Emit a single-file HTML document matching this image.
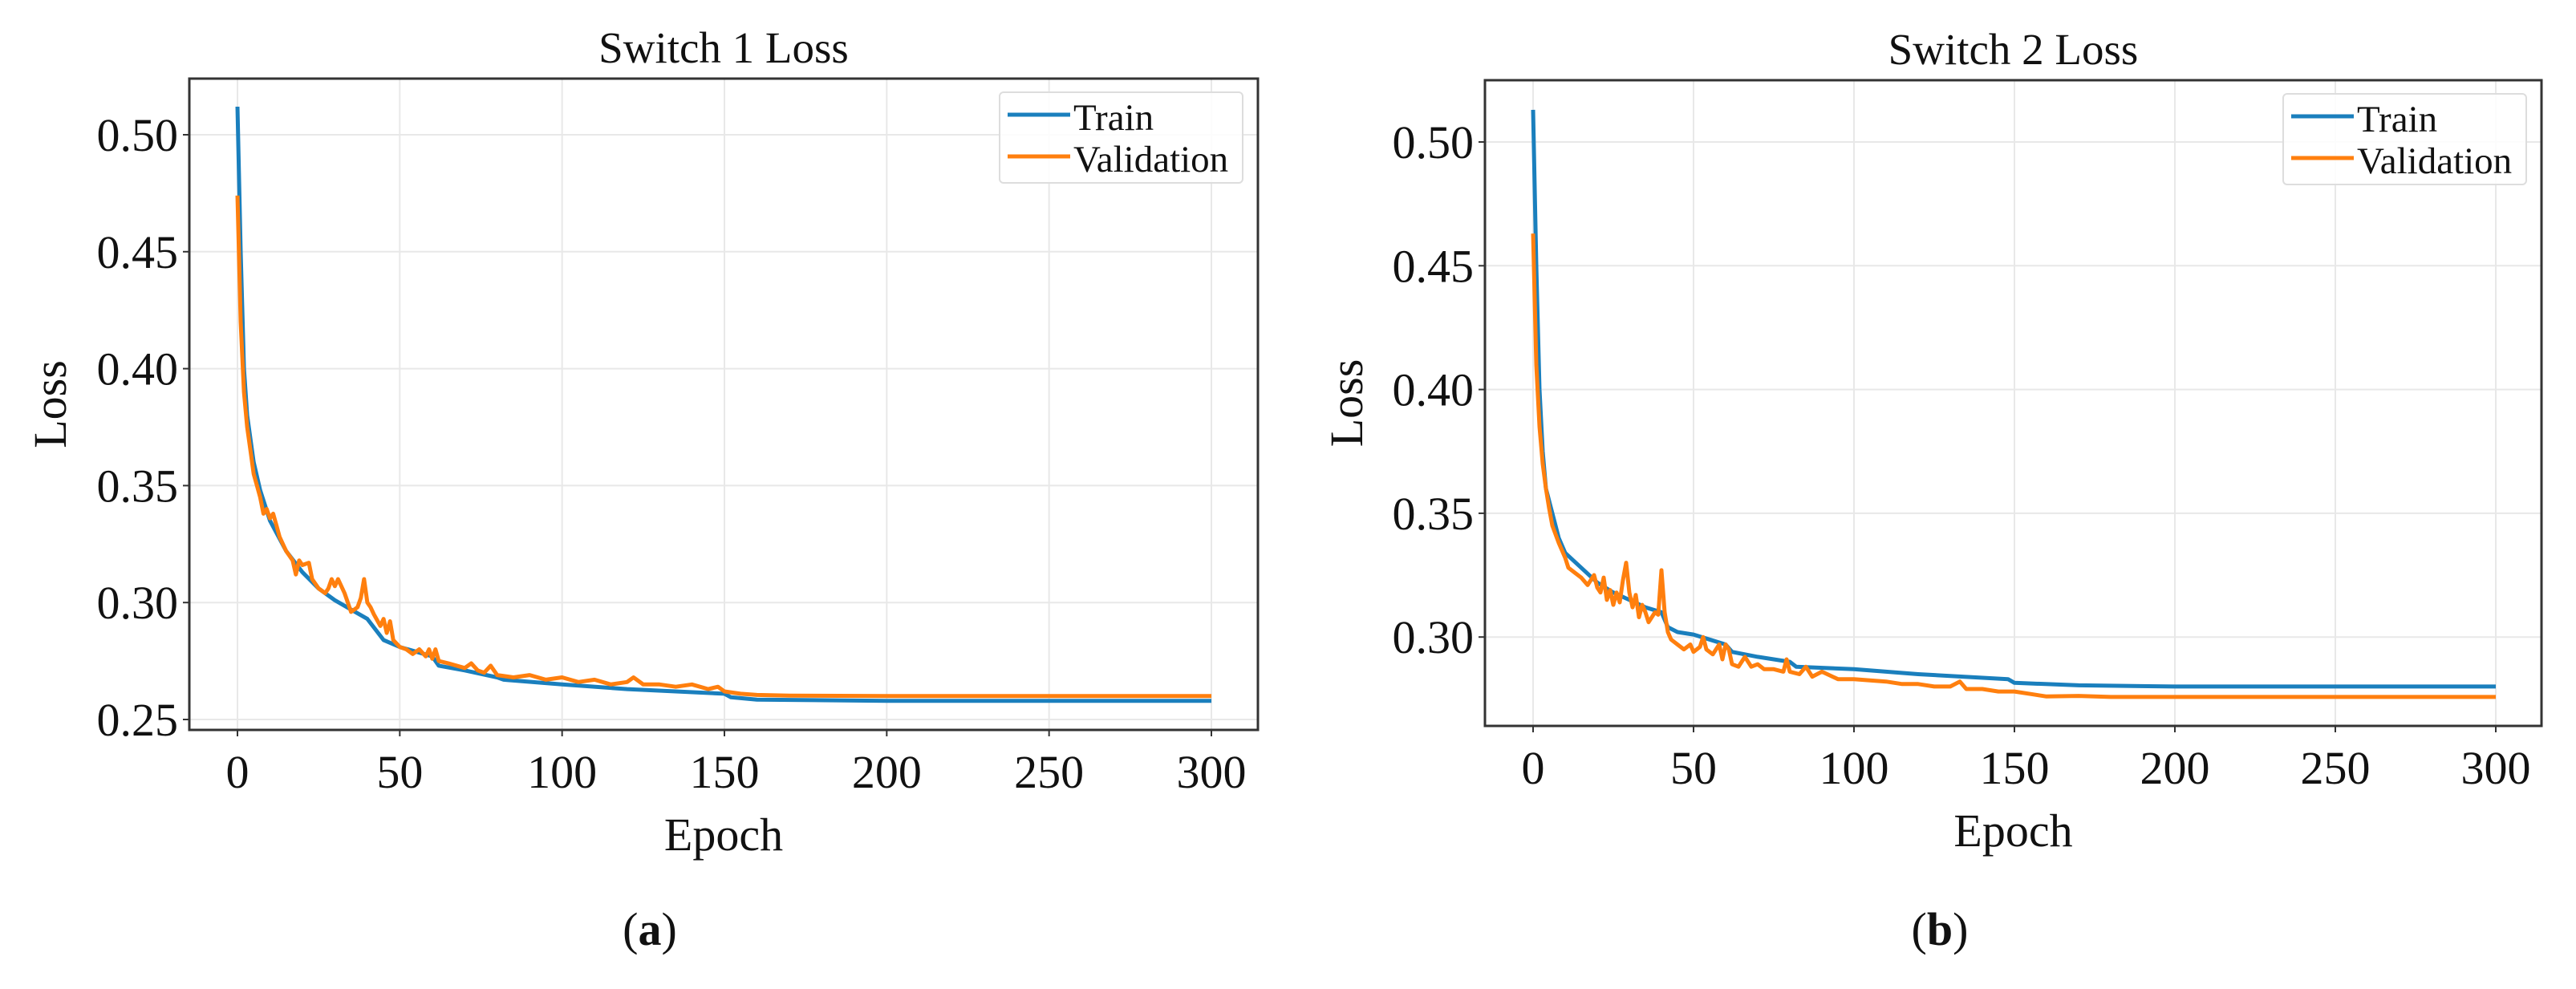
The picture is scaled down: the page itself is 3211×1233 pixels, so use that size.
<!DOCTYPE html>
<html><head><meta charset="utf-8">
<style>
html,body{margin:0;padding:0;background:#fff;}
svg{display:block;font-family:"Liberation Serif",serif;}
</style></head>
<body>
<svg id="chart" width="3211" height="1233" viewBox="0 0 3211 1233" xmlns="http://www.w3.org/2000/svg"></svg>
<script>
const xTicks = [0,50,100,150,200,250,300];
const yTicksA = [0.25,0.30,0.35,0.40,0.45,0.50];
const yTicksB = [0.30,0.35,0.40,0.45,0.50];

const epochsTrainA = [0,1,2,3,5,7,10,15,20,25,30,35,40,45,50,60,62,70,80,82,100,120,150,152,160,200,300];
const trainA = [0.512,0.45,0.40,0.38,0.36,0.348,0.335,0.322,0.313,0.306,0.301,0.297,0.293,0.284,0.281,0.277,0.273,0.271,0.268,0.267,0.265,0.263,0.261,0.2595,0.2585,0.258,0.258];
const epochsValA = [0,1,2,3,4,5,6,7,8,9,10,11,12,13,15,17,18,19,20,22,23,25,27,28,29,30,31,33,35,37,38,39,40,41,42,44,45,46,47,48,50,52,54,56,58,59,60,61,62,65,70,72,74,76,78,80,85,90,95,100,105,110,115,120,122,125,130,135,140,145,148,150,155,160,170,200,300];
const valA = [0.474,0.42,0.39,0.375,0.365,0.355,0.35,0.345,0.338,0.34,0.336,0.338,0.333,0.328,0.322,0.318,0.312,0.318,0.316,0.317,0.31,0.306,0.304,0.306,0.31,0.307,0.31,0.304,0.296,0.298,0.302,0.31,0.3,0.298,0.295,0.29,0.293,0.287,0.292,0.284,0.281,0.28,0.278,0.28,0.277,0.28,0.276,0.28,0.275,0.274,0.272,0.274,0.271,0.27,0.273,0.269,0.268,0.269,0.267,0.268,0.266,0.267,0.265,0.266,0.268,0.265,0.265,0.264,0.265,0.263,0.264,0.262,0.261,0.2605,0.2602,0.26,0.26];

const epochsTrainB = [0,1,2,3,4,6,8,10,15,20,25,30,35,40,42,45,50,55,60,62,70,80,82,100,120,148,150,170,200,300];
const trainB = [0.513,0.45,0.40,0.375,0.36,0.35,0.34,0.334,0.328,0.322,0.318,0.315,0.312,0.31,0.304,0.302,0.301,0.299,0.297,0.294,0.292,0.29,0.288,0.287,0.285,0.283,0.2815,0.2805,0.28,0.28];
const epochsValB = [0,1,2,3,4,5,6,8,10,11,13,15,17,19,20,21,22,23,24,25,26,27,28,29,30,31,32,33,34,35,36,38,39,40,41,42,43,45,47,49,50,52,53,54,56,58,59,60,61,62,64,66,68,70,72,75,78,79,80,83,85,87,90,95,100,110,115,120,125,130,133,135,140,145,150,155,160,170,180,300];
const valB = [0.463,0.41,0.385,0.37,0.36,0.352,0.345,0.338,0.332,0.328,0.326,0.324,0.321,0.325,0.32,0.318,0.324,0.315,0.319,0.313,0.318,0.314,0.323,0.330,0.318,0.312,0.317,0.308,0.313,0.31,0.306,0.31,0.309,0.327,0.31,0.302,0.299,0.297,0.295,0.297,0.294,0.296,0.3,0.295,0.293,0.297,0.291,0.297,0.295,0.289,0.288,0.292,0.288,0.289,0.287,0.287,0.286,0.291,0.286,0.285,0.288,0.284,0.286,0.283,0.283,0.282,0.281,0.281,0.28,0.28,0.282,0.279,0.279,0.278,0.278,0.277,0.276,0.2762,0.2758,0.2758];

const NS = "http://www.w3.org/2000/svg";
const svg = document.getElementById('chart');
function mk(tag, attrs, parent){const e=document.createElementNS(NS,tag);for(const k in attrs)e.setAttribute(k,attrs[k]);(parent||svg).appendChild(e);return e;}

function panel(cfg){
  const g = mk('g',{});
  
  
  const xs = v => cfg.x0px + (v - 0) / 300 * (cfg.x300px - cfg.x0px);
  const ys = v => cfg.yRefPx + (cfg.yRef - v) / 0.05 * cfg.pxPer005;
  xTicks.forEach(t=>{
    const l = mk('line',{x1:xs(t),x2:xs(t),y1:cfg.top,y2:cfg.bottom,stroke:'#e8e8e8','stroke-width':2},g);
    
    
  });
  cfg.yTicks.forEach(t=>{
    const l = mk('line',{x1:cfg.left,x2:cfg.right,y1:ys(t),y2:ys(t),stroke:'#e8e8e8','stroke-width':2},g);
    
    
  });
  function series(ep, vals, color, nm){
    const d = ep.map((e,i)=>(i?'L':'M')+xs(e).toFixed(1)+' '+ys(vals[i]).toFixed(1)).join(' ');
    const p = mk('path',{d:d,fill:'none',stroke:color,'stroke-width':5,'stroke-linejoin':'round'},g);
    
    
  }
  series(cfg.eT, cfg.tr, '#1a7fbd', 'train-line');
  series(cfg.eV, cfg.va, '#ff7f0e', 'validation-line');
  const fr = mk('rect',{x:cfg.left,y:cfg.top,width:cfg.right-cfg.left,height:cfg.bottom-cfg.top,fill:'none',stroke:'#333','stroke-width':3},g);
  
  
  xTicks.forEach(t=>{
    mk('line',{x1:xs(t),x2:xs(t),y1:cfg.bottom,y2:cfg.bottom+8,stroke:'#333','stroke-width':2},g);
    const tx = mk('text',{x:xs(t),y:cfg.bottom+72,'font-size':58,'text-anchor':'middle',fill:'#111'},g);
    tx.textContent = t;
    
    
  });
  cfg.yTicks.forEach(t=>{
    mk('line',{x1:cfg.left-8,x2:cfg.left,y1:ys(t),y2:ys(t),stroke:'#333','stroke-width':2},g);
    const tx = mk('text',{x:cfg.left-14,y:ys(t)+20,'font-size':58,'text-anchor':'end',fill:'#111'},g);
    tx.textContent = t.toFixed(2);
    
    
  });
  const title = mk('text',{x:(cfg.left+cfg.right)/2,y:cfg.top-20,'font-size':55,'text-anchor':'middle',fill:'#111'},g);
  title.textContent = cfg.title;
  
  
  const xl = mk('text',{x:(cfg.left+cfg.right)/2,y:cfg.bottom+150,'font-size':58,'text-anchor':'middle',fill:'#111'},g);
  xl.textContent = 'Epoch';
  
  
  const yl = mk('text',{x:0,y:0,'font-size':58,'text-anchor':'middle',fill:'#111',transform:`translate(${cfg.ylabX},${(cfg.top+cfg.bottom)/2}) rotate(-90)`},g);
  yl.textContent = 'Loss';
  
  
  const lg = mk('g',{},g);
  
  
  mk('rect',{x:cfg.right-322,y:cfg.top+17,width:303,height:113,rx:5,fill:'#fff','fill-opacity':0.85,stroke:'#ddd','stroke-width':2},lg);
  const lx = cfg.right-312;
  mk('line',{x1:lx,x2:lx+78,y1:cfg.top+45,y2:cfg.top+45,stroke:'#1a7fbd','stroke-width':5},lg);
  mk('line',{x1:lx,x2:lx+78,y1:cfg.top+97,y2:cfg.top+97,stroke:'#ff7f0e','stroke-width':5},lg);
  const t1 = mk('text',{x:lx+82,y:cfg.top+64,'font-size':47,fill:'#111'},lg);
  t1.textContent='Train';
  
  
  const t2 = mk('text',{x:lx+82,y:cfg.top+116,'font-size':47,fill:'#111'},lg);
  t2.textContent='Validation';
  
  
  const cap = mk('text',{x:cfg.capX,y:1178,'font-size':58,'text-anchor':'middle',fill:'#111'},g);
  cap.innerHTML = '(<tspan font-weight="bold">'+cfg.cap+'</tspan>)';
  
  
}

panel({name:'switch-1-panel',title:'Switch 1 Loss',cap:'a',capX:810,left:236,right:1568,top:98,bottom:910,
  x0px:296,x300px:1510,yRef:0.50,yRefPx:168,pxPer005:145.8,yTicks:yTicksA,ylabX:82,
  eT:epochsTrainA,tr:trainA,eV:epochsValA,va:valA});
panel({name:'switch-2-panel',title:'Switch 2 Loss',cap:'b',capX:2418,left:1851,right:3168,top:100,bottom:905,
  x0px:1911,x300px:3111,yRef:0.50,yRefPx:177,pxPer005:154.3,yTicks:yTicksB,ylabX:1698,
  eT:epochsTrainB,tr:trainB,eV:epochsValB,va:valB});
</script>
</body></html>
